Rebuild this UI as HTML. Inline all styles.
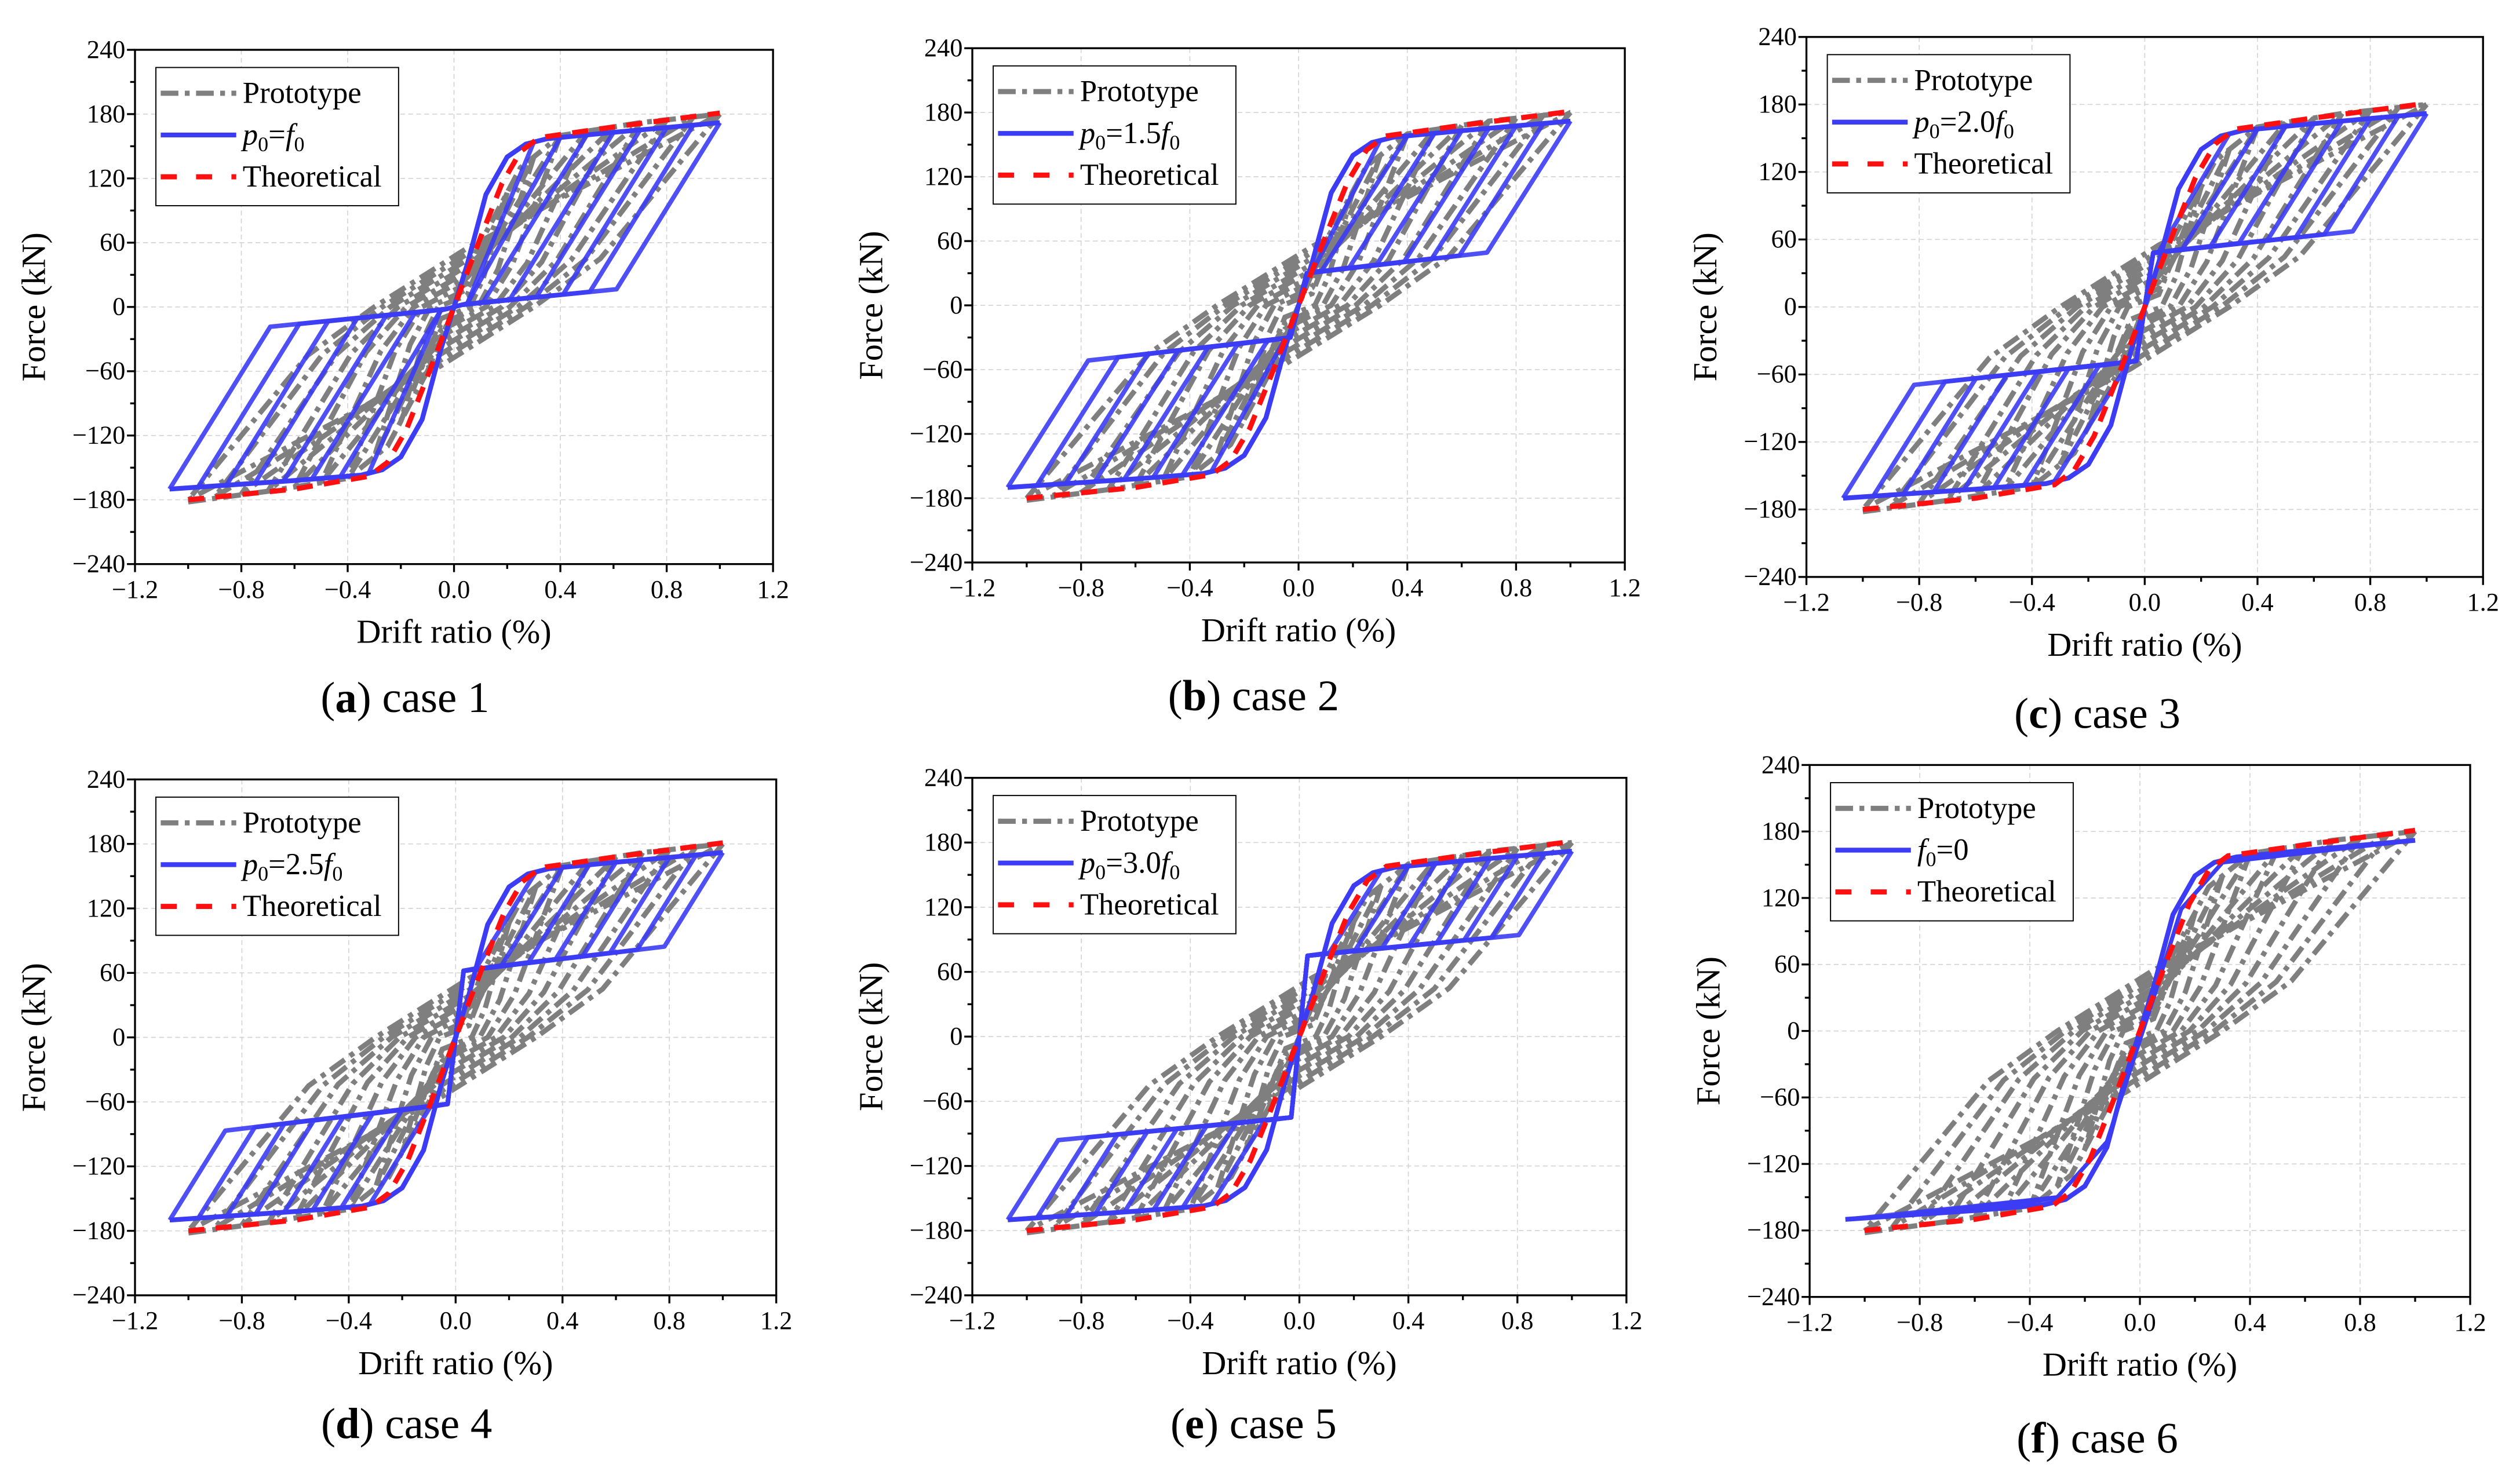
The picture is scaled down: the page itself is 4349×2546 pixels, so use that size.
<!DOCTYPE html>
<html><head><meta charset="utf-8"><style>
html,body{margin:0;padding:0;background:#fff;}
svg, svg text{font-family:"Liberation Serif","Times New Roman","DejaVu Serif","Noto Serif CJK SC",serif;}
</style></head><body>
<svg id="fig" width="4349" height="2541" viewBox="0 0 1568 916" preserveAspectRatio="none" xmlns="http://www.w3.org/2000/svg"></svg>
<script>
// ---- data ----
const xTicks = [-1.2,-0.8,-0.4,0.0,0.4,0.8,1.2];
const yTicks = [-240,-180,-120,-60,0,60,120,180,240];
const xTickLabels = ["−1.2","−0.8","−0.4","0.0","0.4","0.8","1.2"];
const yTickLabels = ["−240","−180","−120","−60","0","60","120","180","240"];
const skelX = [-1.07,-0.6,-0.35,-0.27,-0.2,-0.12,-0.05,0,0.05,0.12,0.2,0.27,0.35,0.6,1.0];
const skelF = [-170,-162,-157,-152,-140,-105,-40,0,40,105,140,152,157,163,172];
const protoX = [-1.0,-0.7,-0.4,-0.25,-0.1,0,0.1,0.25,0.4,0.7,1.0];
const protoF = [-182,-172,-160,-130,-60,0,60,130,160,172,180];
const theoX = [-1.0,-0.6,-0.32,-0.25,-0.18,-0.1,0,0.1,0.18,0.25,0.32,0.6,1.0];
const theoF = [-180,-170,-158,-145,-115,-65,0,65,115,145,158,168,181];
const loopAmps = [0.3,0.4,0.5,0.6,0.7,0.8,0.9,1.0];
const protoAmps = [0.2,0.3,0.4,0.5,0.6,0.7,0.8,0.9,1.0];
const pinchCenter = [2,30,48,62,75,0];
const pinchEnd = [17,50,68,85,95,0];
const pinchEndX = [0.63,0.72,0.77,0.8,0.84,0.5];
const legendLabels = ["f0","1.5f0","2.0f0","2.5f0","3.0f0","zero"];
const captions = ["a","b","c","d","e","f"];
const panels = [
 {x0:84,x1:481,y0:31,y1:351,cap:[252,434]},
 {x0:605,x1:1011,y0:30,y1:350,cap:[780,433]},
 {x0:1124,x1:1545,y0:23,y1:359,cap:[1305,444]},
 {x0:84,x1:483,y0:485,y1:806,cap:[253,886]},
 {x0:605,x1:1012,y0:484,y1:806,cap:[780,886]},
 {x0:1126,x1:1537,y0:476,y1:807,cap:[1305,895]}
];
const NS="http://www.w3.org/2000/svg";
const svg=document.getElementById('fig');
function mk(tag,attrs,parent){const e=document.createElementNS(NS,tag);for(const k in attrs)e.setAttribute(k,attrs[k]);(parent||svg).appendChild(e);return e;}
function interp(xs,ys,x){if(x<=xs[0])return ys[0];for(let i=1;i<xs.length;i++){if(x<=xs[i]){const t=(x-xs[i-1])/(xs[i]-xs[i-1]);return ys[i-1]+t*(ys[i]-ys[i-1]);}}return ys[ys.length-1];}
const GRAY={stroke:'#7f7f7f','stroke-width':3.2,'stroke-dasharray':'11,4,3,4',fill:'none'};
const BLUE='#3c3cf5';

panels.forEach((p,ci)=>{
 const g=mk('g',{});
 
 
 const sx=v=>p.x0+(v+1.2)/2.4*(p.x1-p.x0);
 const sy=v=>p.y1-(v+240)/480*(p.y1-p.y0);
 const pts=a=>a.map(q=>sx(q[0]).toFixed(2)+','+sy(q[1]).toFixed(2)).join(' ');
 xTicks.forEach(t=>{if(t>-1.2&&t<1.2){const l=mk('line',{x1:sx(t),x2:sx(t),y1:p.y0,y2:p.y1,stroke:'#d4d4d4','stroke-width':0.6,'stroke-dasharray':'3,2'},g);}});
 yTicks.forEach(t=>{if(t>-240&&t<240){const l=mk('line',{x1:p.x0,x2:p.x1,y1:sy(t),y2:sy(t),stroke:'#d4d4d4','stroke-width':0.6,'stroke-dasharray':'3,2'},g);}});
 protoAmps.forEach(a=>{
  const F=interp(protoX,protoF,a);
  const path=[[a,F],[0.55*a,0.25*F],[0.3*a,0],[-0.05,-55*a],[-a,-F],[-0.55*a,-0.25*F],[-0.3*a,0],[0.05,55*a],[a,F]];
  const l=mk('polyline',Object.assign({points:pts(path)},GRAY),g);
  
 });
 const ps=[];for(let i=0;i<protoX.length;i++)ps.push([protoX[i],protoF[i]]);
 const pl=mk('polyline',Object.assign({points:pts(ps)},GRAY),g);
 
 const K=400, Pc=pinchCenter[ci], Pe=pinchEnd[ci], Xe=pinchEndX[ci];
 const s=(Pe-Pc)/Xe;
 if(ci<5){
  loopAmps.forEach(a=>{
   const aN=a*1.07;
   const F=interp(skelX,skelF,a), Fn=interp(skelX,skelF,-aN);
   let xr=(Pc-F+K*a)/(K-s); if(xr<0.05)xr=0.05; const yr=Pc+s*xr;
   let xl=(-Pc-Fn-K*aN)/(K-s); if(xl>-0.05)xl=-0.05; const yl=-Pc+s*xl;
   const path=[[-aN,Fn],[xl,yl],[-0.03,-Pc],[0.03,Pc],[xr,yr],[a,F]];
   const l=mk('polyline',{points:pts(path),fill:'none',stroke:BLUE,'stroke-opacity':0.9,'stroke-width':2.8,'stroke-linejoin':'round'},g);
   
  });
 } else {
  loopAmps.forEach(a=>{
   const aN=a*1.07;
   const F=interp(skelX,skelF,a), Fn=interp(skelX,skelF,-aN);
   const path=[[-aN,Fn],[-0.3,-150],[-0.12,-100],[0.05,30],[0.15,110],[0.3,152],[a,F]];
   const l=mk('polyline',{points:pts(path),fill:'none',stroke:BLUE,'stroke-opacity':0.85,'stroke-width':2.4,'stroke-linejoin':'round'},g);
   
  });
 }
 const bs=[];for(let i=0;i<skelX.length;i++)bs.push([skelX[i],skelF[i]]);
 const bl=mk('polyline',{points:pts(bs),fill:'none',stroke:BLUE,'stroke-width':3},g);
 
 const ts=[];for(let i=0;i<theoX.length;i++)ts.push([theoX[i],theoF[i]]);
 const tl=mk('polyline',{points:pts(ts),fill:'none',stroke:'#ff1010','stroke-width':3.2,'stroke-dasharray':'10,7'},g);
 
 const fr=mk('rect',{x:p.x0,y:p.y0,width:p.x1-p.x0,height:p.y1-p.y0,fill:'none',stroke:'#000','stroke-width':1.2},g);
 
 for(let v=-1.2;v<=1.201;v+=0.2){const maj=Math.abs(Math.round(v*10)%4)===0;mk('line',{x1:sx(v),x2:sx(v),y1:p.y1,y2:p.y1+(maj?5:3),stroke:'#000','stroke-width':1.2},g);}
 for(let v=-240;v<=240;v+=30){const maj=v%60===0;mk('line',{x1:p.x0,x2:p.x0-(maj?5:3),y1:sy(v),y2:sy(v),stroke:'#000','stroke-width':1.2},g);}
 xTicks.forEach((t,i)=>{const e=mk('text',{x:sx(t),y:p.y1+21,'font-size':16,'text-anchor':'middle'},g);e.textContent=xTickLabels[i];});
 yTicks.forEach((t,i)=>{const e=mk('text',{x:p.x0-6,y:sy(t)+5,'font-size':16,'text-anchor':'end'},g);e.textContent=yTickLabels[i];});
 const xt=mk('text',{x:(p.x0+p.x1)/2,y:p.y1+49,'font-size':21,'text-anchor':'middle'},g);xt.textContent='Drift ratio (%)';
 
 const yc=(p.y0+p.y1)/2, yx=p.x0-56;
 const yt=mk('text',{x:yx,y:yc,'font-size':21,'text-anchor':'middle',transform:`rotate(-90 ${yx} ${yc})`},g);yt.textContent='Force (kN)';
 
 const lx=p.x0+13, ly=p.y0+11;
 const lg=mk('g',{},g);
 mk('rect',{x:lx,y:ly,width:151,height:86,fill:'#fff',stroke:'#000','stroke-width':0.7},lg);
 mk('line',Object.assign({x1:lx+3,x2:lx+50,y1:ly+16,y2:ly+16},GRAY),lg);
 mk('line',{x1:lx+3,x2:lx+50,y1:ly+42,y2:ly+42,stroke:BLUE,'stroke-width':3},lg);
 mk('line',{x1:lx+3,x2:lx+50,y1:ly+68,y2:ly+68,stroke:'#ff1010','stroke-width':3.2,'stroke-dasharray':'10,12'},lg);
 const t1=mk('text',{x:lx+54,y:ly+22,'font-size':19},lg);t1.textContent='Prototype';
 const t2=mk('text',{x:lx+54,y:ly+48,'font-size':19},lg);
 const lab=legendLabels[ci];
 if(lab==='zero'){t2.innerHTML='<tspan font-style="italic">f</tspan><tspan font-size="13" dy="4">0</tspan><tspan dy="-4">=0</tspan>';}
 else{const coef=lab.replace('f0','');t2.innerHTML='<tspan font-style="italic">p</tspan><tspan font-size="13" dy="4">0</tspan><tspan dy="-4">='+coef+'</tspan><tspan font-style="italic">f</tspan><tspan font-size="13" dy="4">0</tspan>';}
 const t3=mk('text',{x:lx+54,y:ly+74,'font-size':19},lg);t3.textContent='Theoretical';
 const cp=mk('text',{x:p.cap[0],y:p.cap[1]+9,'font-size':27,'text-anchor':'middle'});
 cp.innerHTML='(<tspan font-weight="bold">'+captions[ci]+'</tspan>) case '+(ci+1);
 
});
</script>
</body></html>
